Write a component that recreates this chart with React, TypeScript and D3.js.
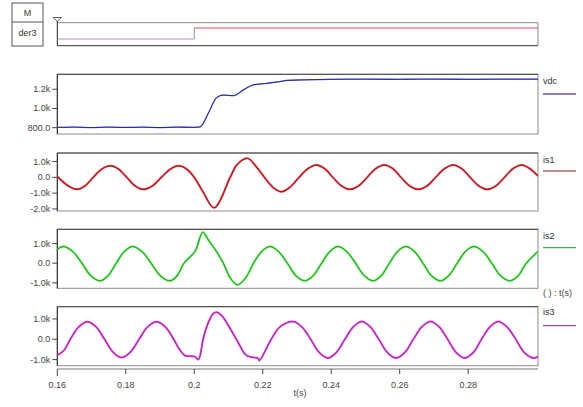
import React from 'react'
import * as d3 from 'd3'

// time axis
const timeTicks = [0.16, 0.18, 0.2, 0.22, 0.24, 0.26, 0.28]

// digital channel der3
const der3T = [0.16, 0.2, 0.3004]
const der3V = [0, 1, 1]

// vdc
const vdcTicks = [800, 1000, 1200]
const vdcT = [0.16, 0.165, 0.17, 0.175, 0.18, 0.185, 0.19, 0.195, 0.2, 0.2017, 0.2041, 0.2065, 0.2084, 0.2114, 0.2143, 0.2172, 0.2212, 0.225, 0.227, 0.232, 0.24, 0.25, 0.26, 0.27, 0.28, 0.29, 0.3004]
const vdcV = [803, 806, 801, 806, 802, 805, 801, 806, 803, 808, 950, 1112, 1140, 1133, 1193, 1245, 1262, 1280, 1292, 1298, 1304, 1305, 1304, 1306, 1304, 1305, 1305]

// is1
const is1Ticks = [-2000, -1000, 0, 1000]
const is1T = [0.16, 0.1632, 0.1657, 0.1681, 0.1705, 0.173, 0.1754, 0.1779, 0.1803, 0.1827, 0.1851, 0.1878, 0.1904, 0.193, 0.1955, 0.1978, 0.2, 0.2025, 0.2058, 0.2105, 0.2124, 0.2156, 0.218, 0.2205, 0.223, 0.2255, 0.2281, 0.2306, 0.2332, 0.2357, 0.2381, 0.2405, 0.243, 0.2455, 0.248, 0.2505, 0.253, 0.2555, 0.258, 0.2604, 0.2629, 0.2654, 0.268, 0.2705, 0.2731, 0.2756, 0.2781, 0.2806, 0.2831, 0.2856, 0.2881, 0.2906, 0.2931, 0.2956, 0.298, 0.3004]
const is1V = [50, -540, -760, -540, 0, 520, 730, 520, 0, -540, -760, -540, 0, 520, 730, 520, 0, -900, -1920, 0, 780, 1200, 700, 0, -640, -910, -600, 0, 550, 780, 550, 0, -540, -760, -540, 0, 550, 780, 550, 0, -540, -760, -540, 0, 550, 780, 550, 0, -540, -760, -540, 0, 550, 780, 550, 80]

// is2
const is2Ticks = [-1000, 0, 1000]
const is2T = [0.16, 0.1618, 0.1645, 0.1672, 0.1698, 0.1725, 0.1748, 0.1772, 0.1796, 0.182, 0.1847, 0.1874, 0.1901, 0.1929, 0.195, 0.197, 0.2002, 0.2025, 0.2041, 0.2063, 0.2085, 0.2105, 0.2126, 0.215, 0.2173, 0.2197, 0.2221, 0.2246, 0.2272, 0.2297, 0.2323, 0.2347, 0.2372, 0.2396, 0.242, 0.2445, 0.2471, 0.2497, 0.2523, 0.2546, 0.257, 0.2594, 0.2618, 0.2643, 0.2668, 0.2693, 0.2719, 0.2743, 0.2768, 0.2792, 0.2817, 0.2843, 0.2869, 0.2895, 0.2922, 0.2946, 0.297, 0.3004]
const is2V = [710, 850, 600, 0, -640, -900, -640, 0, 600, 850, 600, 0, -640, -900, -640, 0, 600, 1580, 1190, 650, 0, -750, -1100, -750, 0, 600, 850, 600, 0, -640, -900, -640, 0, 600, 850, 600, 0, -640, -900, -640, 0, 600, 850, 600, 0, -640, -900, -640, 0, 600, 850, 600, 0, -640, -900, -640, 0, 600]

// is3
const is3Ticks = [-1000, 0, 1000]
const is3T = [0.16, 0.1619, 0.1638, 0.1663, 0.1688, 0.1713, 0.1738, 0.1763, 0.1788, 0.1813, 0.1839, 0.1864, 0.189, 0.1915, 0.194, 0.1957, 0.1973, 0.2002, 0.2012, 0.2026, 0.2036, 0.2055, 0.2065, 0.208, 0.2123, 0.2153, 0.2187, 0.219, 0.2225, 0.225, 0.2289, 0.2314, 0.234, 0.2365, 0.2391, 0.2415, 0.244, 0.2465, 0.2489, 0.2514, 0.2539, 0.2564, 0.2589, 0.2615, 0.264, 0.2665, 0.269, 0.2715, 0.274, 0.2765, 0.279, 0.2815, 0.2839, 0.2864, 0.2888, 0.2913, 0.2939, 0.2964, 0.299, 0.3004]
const is3V = [-780, -560, 0, 610, 860, 610, 0, -640, -900, -640, 0, 610, 860, 610, 0, -500, -800, -850, -1000, 0, 600, 1250, 1330, 1170, 0, -800, -940, -1050, 0, 600, 870, 610, 0, -650, -920, -650, 0, 610, 870, 610, 0, -650, -920, -650, 0, 610, 870, 610, 0, -650, -920, -650, 0, 610, 870, 610, 0, -650, -920, -850]

const W = 583
const H = 407
const X0 = 57.3
const X1 = 538
const font = 'Liberation Sans, Arial, sans-serif'

const x = d3.scaleLinear().domain([0.16, 0.3004]).range([X0, X1])

const fmtVal = (v: number) =>
  v === 0 ? '0.0' : Math.abs(v) >= 1000 ? (v / 1000).toFixed(1) + 'k' : v.toFixed(1)

const panels = [
  { name: 'vdc', y0: 74.3, y1: 134, domain: [734, 1356], ticks: vdcTicks, t: vdcT, v: vdcV,
    halo: '#6a6ae0', core: '#0b0b6e', width: 1.3, curve: d3.curveMonotoneX, legendY: 94, labelY: 84 },
  { name: 'is1', y0: 153, y1: 211, domain: [-2130, 1540], ticks: is1Ticks, t: is1T, v: is1V,
    halo: '#e0343c', core: '#8c1518', width: 2, curve: d3.curveCatmullRom.alpha(0.5), legendY: 171, labelY: 163 },
  { name: 'is2', y0: 229.3, y1: 288.3, domain: [-1280, 1730], ticks: is2Ticks, t: is2T, v: is2V,
    halo: '#44dd3c', core: '#1f9a1c', width: 2, curve: d3.curveCatmullRom.alpha(0.5), legendY: 247.7, labelY: 239 },
  { name: 'is3', y0: 306.7, y1: 365.7, domain: [-1300, 1600], ticks: is3Ticks, t: is3T, v: is3V,
    halo: '#e040e0', core: '#8e1c8e', width: 2, curve: d3.curveCatmullRom.alpha(0.5), legendY: 325.7, labelY: 315 },
]

function Panel({ p }: { p: typeof panels[number] }) {
  const y = d3.scaleLinear().domain(p.domain).range([p.y1, p.y0])
  const pts = p.t.map((t, i) => [t, p.v[i]] as [number, number])
  const line = d3.line<[number, number]>()
    .x(d => x(d[0]))
    .y(d => y(d[1]))
    .curve(p.curve)
  const path = line(pts) || ''
  return (
    <g>
      <clipPath id={'clip-' + p.name}>
        <rect x={X0} y={p.y0} width={X1 - X0} height={p.y1 - p.y0} />
      </clipPath>
      <rect x={X0} y={p.y0} width={X1 - X0} height={p.y1 - p.y0} fill="#fff" stroke="#8c8c8c" strokeWidth={1} />
      <line x1={X0} x2={X1} y1={p.y0} y2={p.y0} stroke="#444" />
      <line x1={X0} x2={X0} y1={p.y0} y2={p.y1} stroke="#222" />
      {p.ticks.map(v => (
        <g key={v}>
          <line x1={X0 - 5} x2={X0} y1={y(v)} y2={y(v)} stroke="#444" />
          <text x={X0 - 7} y={y(v) + 3} textAnchor="end" fontSize={9} fill="#444" fontFamily={font}>{fmtVal(v)}</text>
        </g>
      ))}
      <g clipPath={`url(#clip-${p.name})`}>
        <path d={path} fill="none" stroke={p.halo} strokeWidth={p.width} strokeLinejoin="round" />
        <path d={path} fill="none" stroke={p.core} strokeWidth={0.7} strokeLinejoin="round" />
      </g>
      <text x={543} y={p.labelY} fontSize={9} fill="#333" fontFamily={font}>{p.name}</text>
      <line x1={543} x2={576} y1={p.legendY} y2={p.legendY} stroke={p.core} strokeWidth={1} />
    </g>
  )
}

function Digital() {
  const y = d3.scaleLinear().domain([-0.61, 1.48]).range([45.7, 22.7])
  const segs = der3T.slice(0, -1).map((t, i) => ({ t0: t, t1: der3T[i + 1], v: der3V[i] }))
  return (
    <g>
      <rect x={12} y={3} width={31} height={43} fill="#fff" stroke="#555" />
      <line x1={12} x2={43} y1={22} y2={22} stroke="#555" />
      <text x={27.5} y={16} textAnchor="middle" fontSize={9} fill="#333" fontFamily={font}>M</text>
      <text x={27.5} y={36} textAnchor="middle" fontSize={9} fill="#333" fontFamily={font}>der3</text>
      <line x1={X0} x2={X1} y1={22.7} y2={22.7} stroke="#8c8c8c" />
      <line x1={X0} x2={X1} y1={45.7} y2={45.7} stroke="#333" />
      <line x1={X1} x2={X1} y1={22.7} y2={45.7} stroke="#8c8c8c" />
      <line x1={X0} x2={X0} y1={19} y2={45.7} stroke="#222" />
      <path d={`M${X0 - 4},17.5 L${X0 + 4},17.5 L${X0},21.5 Z`} fill="#fff" stroke="#333" strokeWidth={0.8} />
      {segs.map((s, i) => (
        <line key={i} x1={x(s.t0)} x2={x(s.t1)} y1={y(s.v)} y2={y(s.v)}
          stroke={s.v ? '#d9484c' : '#b98ab9'} strokeWidth={1} />
      ))}
      {segs.slice(1).map((s, i) => (
        <line key={'v' + i} x1={x(s.t0)} x2={x(s.t0)} y1={y(segs[i].v)} y2={y(s.v)} stroke="#a08aa0" strokeWidth={1} />
      ))}
    </g>
  )
}

export default function App() {
  const axisY = 369
  return (
    <svg width={W} height={H} style={{ position: 'absolute', left: 0, top: 0, background: '#fff' }}>
      <rect width={W} height={H} fill="#fff" />
      <Digital />
      {panels.map(p => <Panel key={p.name} p={p} />)}
      <line x1={X0} x2={X1} y1={axisY} y2={axisY} stroke="#777" />
      {timeTicks.map((t, i) => (
        <g key={t}>
          <line x1={x(t)} x2={x(t)} y1={axisY} y2={axisY + (i === 0 ? 7 : 5)} stroke="#444" />
          <text x={x(t)} y={387.5} textAnchor="middle" fontSize={9} fill="#444" fontFamily={font}>{d3.format('~g')(t)}</text>
        </g>
      ))}
      <text x={300} y={396} textAnchor="middle" fontSize={9} fill="#444" fontFamily={font}>t(s)</text>
      <text x={543} y={295.5} fontSize={9} fill="#444" fontFamily={font}>( ) : t(s)</text>
    </svg>
  )
}
